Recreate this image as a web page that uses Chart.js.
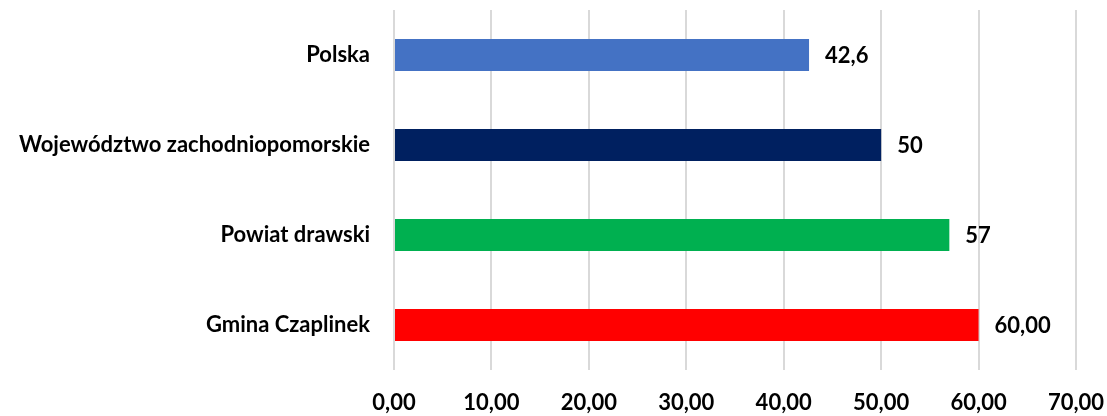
<!DOCTYPE html>
<html>
<head>
<meta charset="utf-8">
<script src="https://cdn.jsdelivr.net/npm/chart.js@4/dist/chart.umd.min.js"></script>
<style>
  html, body { margin: 0; padding: 0; background: #ffffff; }
  #wrap { width: 1107px; height: 416px; position: relative; }
</style>
</head>
<body>
<div id="wrap"><canvas id="c"></canvas></div>
<script>
const categories = ['Polska', 'Województwo zachodniopomorskie', 'Powiat drawski', 'Gmina Czaplinek'];
const values = [42.6, 50, 57, 60.00];
const valueLabels = ['42,6', '50', '57', '60,00'];
const barColors = ['#4472C4', '#002060', '#00B050', '#FF0000'];
const tickLabels = ['0,00', '10,00', '20,00', '30,00', '40,00', '50,00', '60,00', '70,00'];

const FONT = 'Lato, "Open Sans", sans-serif';
const FONT_SIZE = 22;

// Writes each bar's value just past its end
const valueLabelPlugin = {
  id: 'valueLabels',
  afterDatasetsDraw(chart) {
    const ctx = chart.ctx;
    const meta = chart.getDatasetMeta(0);
    ctx.save();
    ctx.font = 'bold ' + FONT_SIZE + 'px ' + FONT;
    ctx.fillStyle = '#000000';
    ctx.textAlign = 'left';
    ctx.textBaseline = 'middle';
    meta.data.forEach((bar, i) => {
      ctx.fillText(valueLabels[i], bar.x + 16, bar.y + 1);
    });
    ctx.restore();
  }
};

new Chart(document.getElementById('c'), {
  type: 'bar',
  data: {
    labels: categories,
    datasets: [{
      data: values,
      backgroundColor: barColors,
      borderWidth: 0,
      barPercentage: 0.356,
      categoryPercentage: 1.0
    }]
  },
  options: {
    indexAxis: 'y',
    responsive: true,
    maintainAspectRatio: false,
    animation: false,
    layout: { padding: { top: 10, right: 31, left: 0, bottom: 0 } },
    plugins: { legend: { display: false }, tooltip: { enabled: false } },
    scales: {
      x: {
        min: 0,
        max: 70,
        ticks: {
          stepSize: 10,
          color: '#000000',
          font: { family: FONT, size: FONT_SIZE, weight: 'bold' },
          padding: 20,
          maxRotation: 0,
          callback: (v, i) => tickLabels[i]
        },
        grid: { color: '#d9d9d9', lineWidth: 2, drawTicks: false },
        border: { display: false },
        afterFit(scale) {
          scale.height = 46;
          scale.paddingLeft = 0;
          scale.paddingRight = 0;
        }
      },
      y: {
        ticks: {
          color: '#000000',
          font: { family: FONT, size: FONT_SIZE, weight: 'bold' },
          padding: 16
        },
        grid: { display: false },
        border: { display: false },
        afterFit(scale) {
          scale.width = 394;
          scale.paddingTop = 0;
          scale.paddingBottom = 0;
        }
      }
    }
  },
  plugins: [valueLabelPlugin]
});
</script>
</body>
</html>
